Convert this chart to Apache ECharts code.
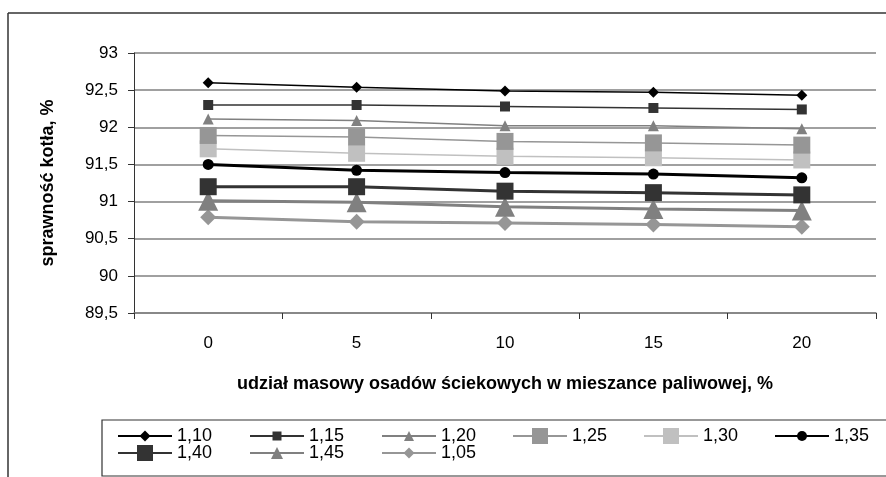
<!DOCTYPE html>
<html>
<head>
<meta charset="utf-8">
<script src="https://cdn.jsdelivr.net/npm/echarts@6/dist/echarts.min.js"></script>
<style>
html,body{margin:0;padding:0;background:#fff;}
#c{width:886px;height:477px;}
</style>
</head>
<body>
<div id="c"></div>
<script>
const categories = ['0', '5', '10', '15', '20'];
const yTicks = ['89,5', '90', '90,5', '91', '91,5', '92', '92,5', '93'];
const seriesNames = ['1,10', '1,15', '1,20', '1,25', '1,30', '1,35', '1,40', '1,45', '1,05'];
const s110 = [92.60, 92.54, 92.49, 92.47, 92.43];
const s115 = [92.30, 92.30, 92.28, 92.26, 92.24];
const s120 = [92.11, 92.09, 92.02, 92.02, 91.98];
const s125 = [91.89, 91.87, 91.81, 91.79, 91.76];
const s130 = [91.71, 91.65, 91.61, 91.59, 91.56];
const s135 = [91.50, 91.42, 91.39, 91.37, 91.32];
const s140 = [91.20, 91.20, 91.14, 91.12, 91.09];
const s145 = [91.01, 90.99, 90.93, 90.90, 90.88];
const s105 = [90.79, 90.73, 90.71, 90.69, 90.66];

const values = [s110, s115, s120, s125, s130, s135, s140, s145, s105];
const styles = [
  {color:'#000000', w:1.5, sym:'diamond', size:11, leg:11},
  {color:'#333333', w:1.5, sym:'rect', size:10, leg:9},
  {color:'#808080', w:1.5, sym:'triangle', size:11, leg:10},
  {color:'#969696', w:1.5, sym:'rect', size:17, leg:16},
  {color:'#c0c0c0', w:1.5, sym:'rect', size:17, leg:16},
  {color:'#000000', w:3, sym:'circle', size:11, leg:10},
  {color:'#333333', w:3, sym:'rect', size:17, leg:16},
  {color:'#808080', w:3, sym:'triangle', size:20, leg:12},
  {color:'#969696', w:3, sym:'diamond', size:16, leg:11}
];
const legendPos = [
  [117, 436], [249, 436], [381, 436], [512, 436], [643, 436], [774, 436],
  [117, 453], [249, 453], [381, 453]
];

const font = 'Liberation Sans, Arial, sans-serif';
const chart = echarts.init(document.getElementById('c'), null, {renderer:'canvas'});

const series = seriesNames.map((n, i) => ({
  name: n,
  type: 'line',
  data: values[i],
  symbol: styles[i].sym,
  symbolSize: styles[i].size,
  showAllSymbol: true,
  lineStyle: {color: styles[i].color, width: styles[i].w},
  itemStyle: {color: styles[i].color},
  emphasis: {disabled: true},
  animation: false,
  z: 10 - i
}));

const LH = 20;
const legends = seriesNames.map((n, i) => {
  const h = styles[i].leg / 0.8;
  const box = Math.max(h, LH);
  return {
    data: [n],
    left: legendPos[i][0],
    top: legendPos[i][1] - box / 2,
    orient: 'horizontal',
    itemWidth: 54,
    itemHeight: h,
    itemGap: 0,
    padding: 0,
    selectedMode: false,
    textStyle: {fontFamily: font, fontSize: 18, lineHeight: LH, color: '#000'}
  };
});

chart.setOption({
  animation: false,
  backgroundColor: '#fff',
  grid: {left: 134, right: 10, top: 53, bottom: 164, containLabel: false},
  xAxis: {
    type: 'category',
    data: categories,
    boundaryGap: true,
    name: 'udział masowy osadów ściekowych w mieszance paliwowej, %',
    nameLocation: 'middle',
    nameGap: 62,
    nameTextStyle: {fontFamily: font, fontSize: 18, fontWeight: 'bold', color: '#000'},
    axisLine: {lineStyle: {color: '#808080', width: 1.5}},
    axisTick: {show: true, length: 6, lineStyle: {color: '#333'}},
    axisLabel: {fontFamily: font, fontSize: 17, color: '#000', margin: 22}
  },
  yAxis: {
    type: 'value',
    min: 89.5,
    max: 93,
    interval: 0.5,
    name: 'sprawność kotła, %',
    nameLocation: 'middle',
    nameGap: 77,
    nameRotate: 90,
    nameTextStyle: {fontFamily: font, fontSize: 18, fontWeight: 'bold', color: '#000'},
    axisLine: {show: true, lineStyle: {color: '#333', width: 1}},
    axisTick: {show: true, length: 6, lineStyle: {color: '#333'}},
    axisLabel: {fontFamily: font, fontSize: 17, color: '#000', margin: 16,
      formatter: (v) => yTicks[Math.round((v - 89.5) / 0.5)]},
    splitLine: {lineStyle: {color: '#808080', width: 1.5}}
  },
  legend: legends,
  graphic: [
    {type: 'line', shape: {x1: 8, y1: 13, x2: 886, y2: 13}, style: {stroke: '#333', lineWidth: 1.5}, silent: true},
    {type: 'line', shape: {x1: 8, y1: 13, x2: 8, y2: 477}, style: {stroke: '#333', lineWidth: 1.5}, silent: true},
    {type: 'rect', shape: {x: 102, y: 420, width: 800, height: 56}, style: {fill: 'none', stroke: '#333', lineWidth: 1.2}, silent: true, z: -1}
  ],
  series: series
});
</script>
</body>
</html>
